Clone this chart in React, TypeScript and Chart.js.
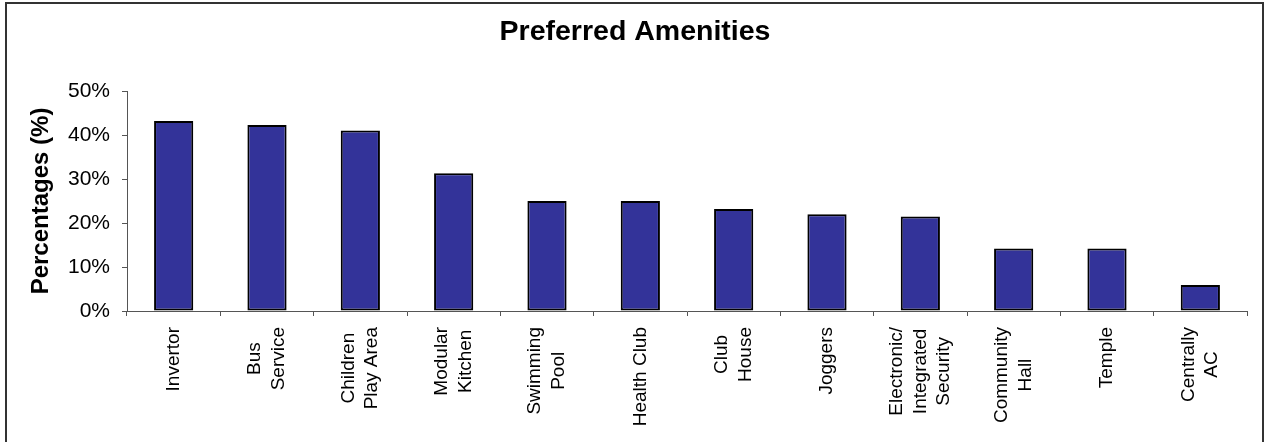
import React, { useEffect, useRef } from "react";
import { Chart, registerables } from "chart.js";

Chart.register(...registerables);

const chartTitle = "Preferred Amenities";
const yAxisTitle = "Percentages (%)";
const categories: string[][] = [
  ["Invertor"],
  ["Bus", "Service"],
  ["Children", "Play Area"],
  ["Modular", "Kitchen"],
  ["Swimming", "Pool"],
  ["Health Club"],
  ["Club", "House"],
  ["Joggers"],
  ["Electronic/", "Integrated", "Security"],
  ["Community", "Hall"],
  ["Temple"],
  ["Centrally", "AC"],
];
const percentages = [43.2, 42.3, 41.0, 31.3, 25.0, 25.0, 23.2, 22.0, 21.5, 14.2, 14.2, 5.9];
const yMin = 0;
const yMax = 50;
const yStep = 10;

const W = 1265;
const H = 442;

const xLabelPlugin = {
  id: "centeredRotatedXLabels",
  afterDraw(chart: any) {
    const ctx = chart.ctx as CanvasRenderingContext2D;
    const xs = chart.scales.x;
    ctx.save();
    ctx.font = '19px "Liberation Sans", Arial, sans-serif';
    ctx.fillStyle = "#000";
    ctx.textAlign = "center";
    ctx.textBaseline = "middle";
    const lh = 23.5;
    categories.forEach((lines, i) => {
      const x = xs.getPixelForValue(i);
      const maxW = Math.max(...lines.map((l) => ctx.measureText(l).width));
      const cy = xs.top + 16 + maxW / 2;
      ctx.save();
      ctx.translate(x, cy);
      ctx.rotate(-Math.PI / 2);
      lines.forEach((l, j) => {
        ctx.fillText(l, 0, (j - (lines.length - 1) / 2) * lh);
      });
      ctx.restore();
    });
    ctx.restore();
  },
};

export default function App() {
  const ref = useRef<HTMLCanvasElement | null>(null);

  useEffect(() => {
    document.body.style.margin = "0";
    document.body.style.background = "#fff";
    const canvas = ref.current;
    if (!canvas) return;
    const chart = new Chart(canvas, {
      type: "bar",
      data: {
        labels: categories.map((c) => c.join(" ")),
        datasets: [
          {
            data: percentages,
            backgroundColor: "#333399",
            borderColor: "#000000",
            borderWidth: 2,
            borderSkipped: false,
            barPercentage: 0.42,
            categoryPercentage: 1,
          },
        ],
      },
      options: {
        responsive: false,
        animation: false,
        devicePixelRatio: 1,
        layout: { padding: { left: 23, right: 18, top: 0, bottom: 0 } },
        plugins: {
          legend: { display: false },
          tooltip: { enabled: false },
          title: {
            display: true,
            text: chartTitle,
            color: "#000",
            font: { family: '"Liberation Sans", Arial, sans-serif', size: 28.5, weight: "bold" },
            padding: { top: 15.5, bottom: 41.3 },
          },
        },
        scales: {
          x: {
            type: "category",
            offset: true,
            ticks: { display: false },
            grid: {
              display: true,
              drawOnChartArea: false,
              drawTicks: true,
              tickLength: 5,
              color: "#555",
              offset: true,
            },
            border: { display: true, color: "#555", width: 1 },
            afterFit: (scale: any) => {
              scale.height = H - 311;
            },
          },
          y: {
            min: yMin,
            max: yMax,
            ticks: {
              stepSize: yStep,
              padding: 12,
              color: "#000",
              font: { family: '"Liberation Sans", Arial, sans-serif', size: 21 },
              callback: (v: any) => `${v}%`,
            },
            grid: {
              display: true,
              drawOnChartArea: false,
              drawTicks: true,
              tickLength: 5,
              color: "#555",
            },
            border: { display: true, color: "#555", width: 1 },
            title: {
              display: true,
              text: yAxisTitle,
              color: "#000",
              font: { family: '"Liberation Sans", Arial, sans-serif', size: 24, weight: "bold" },
              padding: { top: 4, bottom: 4 },
            },
            afterFit: (scale: any) => {
              scale.width = 104;
            },
          },
        },
      },
      plugins: [xLabelPlugin],
    });
    return () => chart.destroy();
  }, []);

  return (
    <div style={{ position: "absolute", left: 0, top: 0, width: W, height: H, background: "#fff", overflow: "hidden" }}>
      <div
        style={{
          position: "absolute",
          left: 5,
          top: 2,
          width: 1259,
          height: H + 10,
          boxSizing: "border-box",
          border: "2px solid #333",
        }}
      />
      <canvas ref={ref} width={W} height={H} style={{ position: "absolute", left: 0, top: 0, width: W, height: H }} />
    </div>
  );
}
